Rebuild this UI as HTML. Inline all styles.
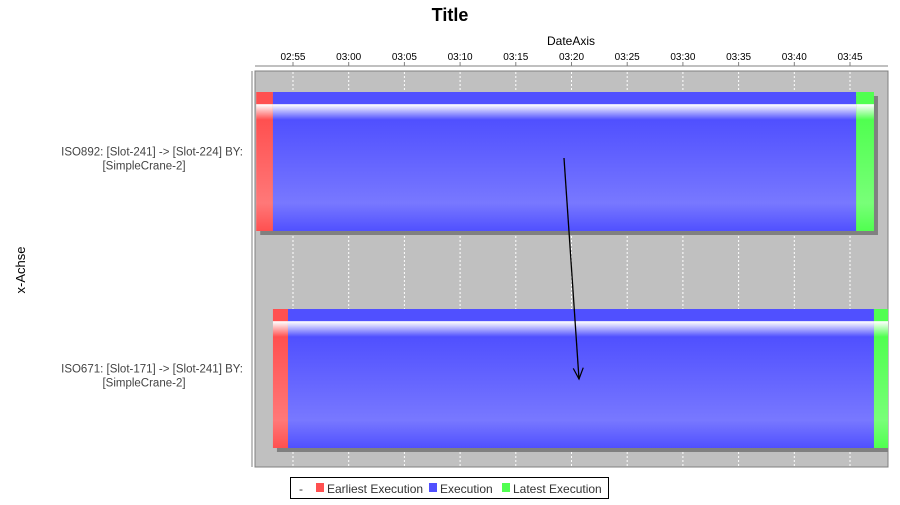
<!DOCTYPE html>
<html><head><meta charset="utf-8"><style>
body{margin:0;background:#fff;font-family:"Liberation Sans","DejaVu Sans",sans-serif}
</style></head><body>
<svg width="900" height="500" xmlns="http://www.w3.org/2000/svg" font-family="Liberation Sans, DejaVu Sans, sans-serif">
<defs>
<linearGradient id="gb" x1="0" y1="0" x2="0" y2="1">
<stop offset="0" stop-color="#5050ff"/><stop offset="0.085" stop-color="#5050ff"/>
<stop offset="0.09" stop-color="#ffffff"/><stop offset="0.2" stop-color="#5050ff"/>
<stop offset="0.8" stop-color="#7878ff"/><stop offset="1" stop-color="#5050ff"/></linearGradient>
<linearGradient id="gr" x1="0" y1="0" x2="0" y2="1">
<stop offset="0" stop-color="#ff5050"/><stop offset="0.085" stop-color="#ff5050"/>
<stop offset="0.09" stop-color="#ffffff"/><stop offset="0.2" stop-color="#ff5050"/>
<stop offset="0.8" stop-color="#ff7878"/><stop offset="1" stop-color="#ff5050"/></linearGradient>
<linearGradient id="gg" x1="0" y1="0" x2="0" y2="1">
<stop offset="0" stop-color="#50ff50"/><stop offset="0.085" stop-color="#50ff50"/>
<stop offset="0.09" stop-color="#ffffff"/><stop offset="0.2" stop-color="#50ff50"/>
<stop offset="0.8" stop-color="#78ff78"/><stop offset="1" stop-color="#50ff50"/></linearGradient>
<clipPath id="pc"><rect x="255" y="71" width="633" height="396"/></clipPath>
<marker id="ah" markerWidth="14" markerHeight="14" refX="12" refY="6" orient="auto" markerUnits="userSpaceOnUse"><path d="M1,1 L12,6 L1,11" fill="none" stroke="#000" stroke-width="1.2"/></marker>
</defs>
<text x="450" y="21" text-anchor="middle" font-size="18" font-weight="bold">Title</text>
<text x="571" y="45" text-anchor="middle" font-size="12">DateAxis</text>
<text transform="translate(25,270) rotate(-90)" text-anchor="middle" font-size="13">x-Achse</text>
<rect x="255" y="71" width="633" height="396" fill="#c0c0c0" stroke="#808080"/>
<line x1="255" y1="66" x2="888" y2="66" stroke="#808080"/>
<line x1="252" y1="71" x2="252" y2="467" stroke="#808080"/>
<g id="ticks"></g>
<g id="bars" clip-path="url(#pc)"></g>
<g id="cats"></g>
<line x1="564" y1="158" x2="579" y2="379" stroke="#000" stroke-width="1.3" marker-end="url(#ah)"/>
<g>
<rect x="290.5" y="477.5" width="318" height="21" fill="#fff" stroke="#000"/>
<text x="299" y="493" font-size="12" fill="#333">-</text>
<rect x="316" y="483" width="8" height="9" fill="#ff5050"/><text x="327" y="493" font-size="12" fill="#333">Earliest Execution</text>
<rect x="429" y="483" width="8" height="9" fill="#5050ff"/><text x="440" y="493" font-size="12" fill="#333">Execution</text>
<rect x="502" y="483" width="8" height="9" fill="#50ff50"/><text x="513" y="493" font-size="12" fill="#333">Latest Execution</text>
</g>
</svg>
<script>
// minutes after 02:00
const categories=["ISO892: [Slot-241] -> [Slot-224] BY:|[SimpleCrane-2]","ISO671: [Slot-171] -> [Slot-241] BY:|[SimpleCrane-2]"];
const earliestStart=[51.7,53.2];
const execStart=[53.2,54.55];
const latestStart=[105.55,107.15];
const latestEnd=[107.15,108.6];
const tickMinutes=[55,60,65,70,75,80,85,90,95,100,105];
const tickLabels=["02:55","03:00","03:05","03:10","03:15","03:20","03:25","03:30","03:35","03:40","03:45"];
const xMin=51.59,xMax=108.41;
const X=m=>255+(m-xMin)/(xMax-xMin)*633;
const NS="http://www.w3.org/2000/svg";
function mk(t,a,p){const e=document.createElementNS(NS,t);for(const k in a)e.setAttribute(k,a[k]);p.appendChild(e);return e;}
const tg=document.getElementById('ticks');
tickMinutes.forEach((m,i)=>{const x=X(m);
 const l=mk('line',{x1:x,y1:72,x2:x,y2:466,stroke:'#fff','stroke-dasharray':'2,2','stroke-width':1},tg);
 
 
 mk('line',{x1:x,y1:62,x2:x,y2:66,stroke:'#808080'},tg);
 const t=mk('text',{x:x,y:60,'text-anchor':'middle','font-size':10},tg);t.textContent=tickLabels[i];
 
 
});
const bg=document.getElementById('bars'),cg=document.getElementById('cats');
const barH=139;
categories.forEach((c,i)=>{
 const yy=i?309:92;
 const s=mk('rect',{x:X(earliestStart[i])+4,y:yy+4,width:X(latestEnd[i])-X(earliestStart[i]),height:barH,fill:'#808080'},bg);
 
 
 const r1=mk('rect',{x:X(earliestStart[i]),y:yy,width:X(execStart[i])-X(earliestStart[i]),height:barH,fill:'url(#gr)'},bg);
 
 
 const r2=mk('rect',{x:X(execStart[i]),y:yy,width:X(latestStart[i])-X(execStart[i]),height:barH,fill:'url(#gb)'},bg);
 
 
 const r3=mk('rect',{x:X(latestStart[i]),y:yy,width:X(latestEnd[i])-X(latestStart[i]),height:barH,fill:'url(#gg)'},bg);
 
 
 const parts=c.split('|');const cy=yy+barH/2;
 const t1=mk('text',{x:243,y:cy-6,'text-anchor':'end','font-size':11.5,fill:'#444'},cg);t1.textContent=parts[0];
 
 
 const t2=mk('text',{x:144,y:cy+8,'text-anchor':'middle','font-size':11.5,fill:'#444'},cg);t2.textContent=parts[1];
 
 
});
</script>
</body></html>
